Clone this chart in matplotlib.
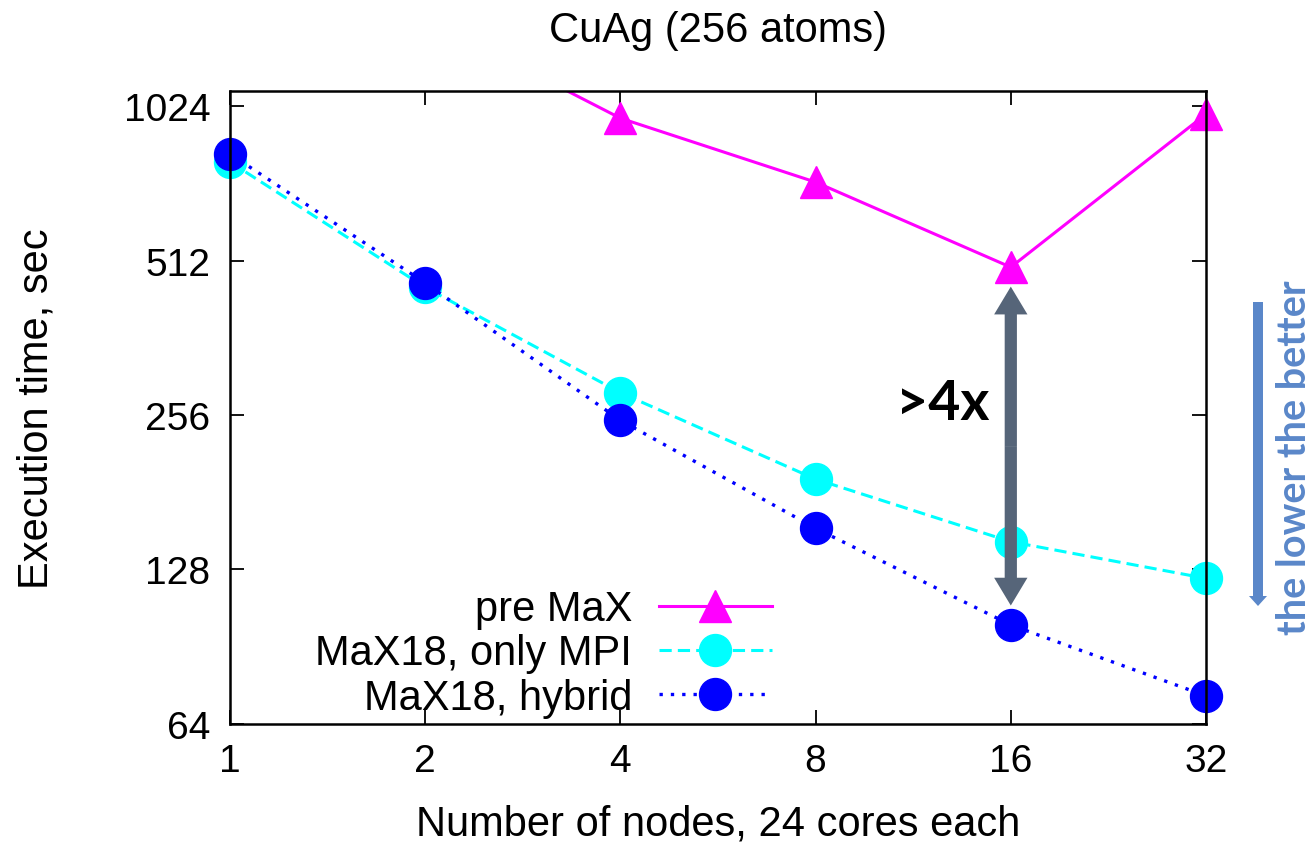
import numpy as np
import matplotlib
matplotlib.use("Agg")
import matplotlib.pyplot as plt
from matplotlib.lines import Line2D

# data
nodes = [1, 2, 4, 8, 16, 32]
pre_nodes = [2, 4, 8, 16, 32]
pre_max = [1520, 970, 728, 497, 988]
only_mpi = [797, 454, 283, 192, 145, 123]
hybrid = [826, 463, 250, 154, 99.8, 72.6]
yticks = [64, 128, 256, 512, 1024]
labels = ["pre MaX", "MaX18, only MPI", "MaX18, hybrid"]

C_PRE = "#ff00ff"
C_MPI = "#00ffff"
C_HYB = "#0000ff"
DASH = (0, (4, 2))
DOT = (0, (1, 2.4))

plt.rcParams["font.family"] = ["Liberation Sans", "DejaVu Sans"]

fig = plt.figure(figsize=(13.13, 8.54), dpi=100)
ax = fig.add_axes([0.1752, 0.1511, 0.7433, 0.7412])
ax.set_xscale("log", base=2)
ax.set_yscale("log", base=2)
ax.set_xlim(1, 32)
ax.set_ylim(64, 1096)

# pre MaX: line clipped at the top, markers drawn over the frame
ax.plot(pre_nodes, pre_max, color=C_PRE, lw=2.2, zorder=2)
ax.plot(pre_nodes[1:], pre_max[1:], ls="none", marker="^", ms=23,
        color=C_PRE, clip_on=False, zorder=2)
ax.plot(nodes, only_mpi, color=C_MPI, lw=2.2, ls=DASH,
        marker="o", ms=23, clip_on=False, zorder=2)
ax.plot(nodes, hybrid, color=C_HYB, lw=2.4, ls=DOT,
        marker="o", ms=23, clip_on=False, zorder=2)

ax.set_xticks(nodes)
ax.set_xticklabels([str(n) for n in nodes])
ax.set_yticks(yticks)
ax.set_yticklabels([str(v) for v in yticks])
ax.minorticks_off()
ax.tick_params(direction="in", length=10, width=1.3, top=True, right=True,
               labelsize=28, pad=14)
for s in ax.spines.values():
    s.set_linewidth(1.8)

ax.set_title("CuAg (256 atoms)", fontsize=30, pad=36)
ax.set_xlabel("Number of nodes, 24 cores each", fontsize=30)
ax.xaxis.set_label_coords(0.5, -0.125)
ax.set_ylabel("Execution time, sec", fontsize=30)
ax.yaxis.set_label_coords(-0.178, 0.5)

handles = [
    Line2D([], [], color=C_PRE, lw=2.2, marker="^", ms=23),
    Line2D([], [], color=C_MPI, lw=2.2, ls=DASH, marker="o", ms=23),
    Line2D([], [], color=C_HYB, lw=2.4, ls=DOT, marker="o", ms=23),
]
ax.legend(handles, labels, loc="lower right", bbox_to_anchor=(0.555, 0.01),
          frameon=False, markerfirst=False, fontsize=30, handlelength=2.7,
          handletextpad=0.65, labelspacing=0.1, borderpad=0, borderaxespad=0)

# >4x double arrow between pre MaX and hybrid at 16 nodes
top = pre_max[3]
bot = hybrid[4]
mid = np.sqrt(top * bot)
arrow = dict(arrowstyle="simple,head_length=0.5,head_width=0.6,tail_width=0.22",
             mutation_scale=40, color="#566579", lw=0, shrinkA=0, shrinkB=14)
ax.annotate("", xy=(16, top), xytext=(16, mid), arrowprops=arrow)
ax.annotate("", xy=(16, bot), xytext=(16, mid), arrowprops=arrow)
ax.text(0.7305, 0.507, ">4x", transform=ax.transAxes, fontsize=40,
        fontweight="bold", family="Lato", ha="center", va="center")

# side note
fig.text(1295 / 1313, 1 - 458 / 854, "the lower the better", rotation=90,
         color="#5a87c9", fontsize=28.5, fontweight="bold", family="Lato",
         ha="center", va="center")
ax.annotate("", xy=(1258 / 1313, 1 - 607 / 854),
            xytext=(1258 / 1313, 1 - 303 / 854),
            xycoords="figure fraction", textcoords="figure fraction",
            arrowprops=dict(arrowstyle="simple,head_length=0.36,head_width=0.65,tail_width=0.36",
                            mutation_scale=20, color="#5a87c9", lw=0,
                            shrinkA=0, shrinkB=0))

fig.savefig("out.png", dpi=100)
